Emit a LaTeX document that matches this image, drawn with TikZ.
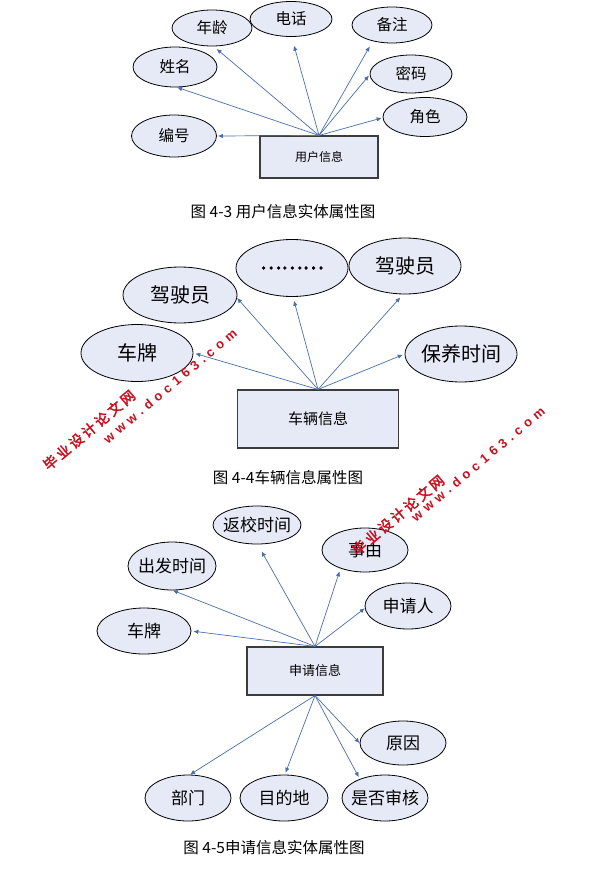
\documentclass[tikz,border=0pt]{standalone}
\usepackage{fontspec}
\usetikzlibrary{shapes.geometric,arrows.meta}
\newfontfamily\cjk{Noto Sans CJK SC}
\newfontfamily\cjkfat[FakeBold=3]{Noto Sans CJK SC}
\newfontfamily\wmcjk[FakeBold=2.5,LetterSpace=20]{Noto Sans CJK SC}
\newfontfamily\wmlat[LetterSpace=36]{Liberation Sans}
\newcommand\ctr[1]{\makebox[0pt][c]{#1}}
\definecolor{attrfill}{RGB}{229,234,246}
\definecolor{boxline}{RGB}{60,60,60}
\definecolor{linkblue}{RGB}{74,110,168}
\definecolor{wmred}{RGB}{200,16,30}
\begin{document}
\begin{tikzpicture}[x=1pt,y=-1pt,
  sz/.style n args={2}{minimum width=#1pt, minimum height=#2pt},
  attr/.style={ellipse, draw=black, line width=0.8pt, fill=attrfill, inner sep=0pt},
  attra/.style={attr, font=\cjk\fontsize{15.5}{16}\selectfont},
  attrb/.style={attr, font=\cjk\fontsize{20}{22}\selectfont},
  attrc/.style={attr, font=\cjk\fontsize{17}{18}\selectfont},
  entity/.style={rectangle, draw=boxline, line width=1.1pt, fill=attrfill, inner sep=0pt},
  link/.style={draw=linkblue, line width=0.7pt, -{Latex[length=5pt,width=4.5pt]}},
  figcap/.style={font=\cjk\fontsize{15.5}{15.5}\selectfont, inner sep=0pt},
  wm/.style={text=wmred, inner sep=0pt}
]
\useasboundingbox (0,0) rectangle (589,888);

% ---------- Diagram 4-3 ----------
\node[attra, sz={80}{36}] (age)  at (212,28)  {年龄};
\node[attra, sz={82}{35}] (tel)  at (291,19)  {电话};
\node[attra, sz={80}{36}] (note) at (392,25)  {备注};
\node[attra, sz={84}{40}] (name) at (175,67)  {姓名};
\node[attra, sz={82}{38}] (pwd)  at (411,74)  {密码};
\node[attra, sz={84}{39}] (role) at (425,117) {角色};
\node[attra, sz={85}{42}] (id)   at (174,136) {编号};
\node[entity, sz={118}{42}, font=\cjk\fontsize{12}{12}\selectfont] (user) at (319,157) {用户信息};

\draw[link, shorten >=4pt] (user.north) -- (age.-85);
\draw[link, shorten >=9pt] (user.north) -- (tel.-88);
\draw[link, shorten >=6pt] (user.north) -- (note.-140);
\draw[link] (user.north) -- (name.-84);
\draw[link, shorten >=1pt] (user.north) -- (pwd.181);
\draw[link, shorten >=1pt] (user.north) -- (role.181);
\draw[link, shorten >=1pt] (user.north) -- (id.east);

\node[figcap] (cap1) at (283,212) {图 4-3 用户信息实体属性图};

% ---------- Diagram 4-4 ----------
\node[attrb, sz={114}{56}] (drvL)  at (180,295) {\ctr{驾驶员}};
\node[attrb, sz={112}{57}, font=\cjkfat\fontsize{20}{22}\selectfont] (dots)  at (292,268) {\ctr{………}};
\node[attrb, sz={112}{56}] (drvR)  at (405,266) {\ctr{驾驶员}};
\node[attrb, sz={112}{57}] (plate) at (137,353) {\ctr{车牌}};
\node[attrb, sz={112}{56}] (maint) at (461,354) {\ctr{保养时间}};
\node[entity, sz={161}{58}, font=\cjk\fontsize{15}{15}\selectfont] (car) at (318,419) {车辆信息};

\draw[link] (car.north) -- (drvL.-3);
\draw[link, shorten >=4pt] (car.north) -- (dots.-88);
\draw[link, shorten >=4pt] (car.north) -- (drvR.-94);
\draw[link, shorten >=2pt] (car.north) -- (plate.east);
\draw[link, shorten >=2pt] (car.north) -- (maint.west);

\node[figcap] (cap2) at (288,478) {图 4-4车辆信息属性图};

% ---------- Diagram 4-5 ----------
\node[attrc, sz={88}{38}] (ret)    at (257,525) {\ctr{返校时间}};
\node[attrc, sz={88}{48}] (dep)    at (172,566) {\ctr{出发时间}};
\node[attrc, sz={86}{44}] (reason) at (365,550) {\ctr{事由}};
\node[attrc, sz={86}{46}] (appl)   at (408,606) {\ctr{申请人}};
\node[attrc, sz={94}{46}] (plate2) at (144,631) {\ctr{车牌}};
\node[entity, sz={136}{48}, font=\cjk\fontsize{13}{13}\selectfont] (req) at (315,671) {申请信息};
\node[attrc, sz={86}{44}] (cause)  at (403,743) {\ctr{原因}};
\node[attrc, sz={86}{46}] (dept)   at (188,798) {\ctr{部门}};
\node[attrc, sz={88}{46}] (dest)   at (284,798) {\ctr{目的地}};
\node[attrc, sz={86}{46}] (audit)  at (385,798) {\ctr{是否审核}};

\draw[link, shorten >=8pt] (req.north) -- (ret.-88);
\draw[link] (req.north) -- (dep.-88);
\draw[link, shorten >=3pt] (req.north) -- (reason.-143);
\draw[link] (req.north) -- (appl.183);
\draw[link, shorten >=2pt] (req.north) -- (plate2.east);
\draw[link] (req.south) -- (cause.west);
\draw[link] (req.south) -- (dept.85);
\draw[link, shorten >=2pt] (req.south) -- (dest.88);
\draw[link, shorten >=2pt] (req.south) -- (audit.143);

\node[figcap] (cap3) at (274,848) {图 4-5申请信息实体属性图};

% ---------- watermarks ----------
\node[wm, rotate=40, font=\wmcjk\fontsize{14}{14}\selectfont] (wm1a) at (89,430) {毕业设计论文网};
\node[wm, rotate=40, font=\wmlat\bfseries\fontsize{13}{13}\selectfont] (wm1b) at (170,386) {www.doc163.com};
\node[wm, rotate=40, font=\wmcjk\fontsize{14}{14}\selectfont] (wm2a) at (398,515) {毕业设计论文网};
\node[wm, rotate=40, font=\wmlat\bfseries\fontsize{13}{13}\selectfont] (wm2b) at (478,464) {www.doc163.com};
\end{tikzpicture}
\end{document}
